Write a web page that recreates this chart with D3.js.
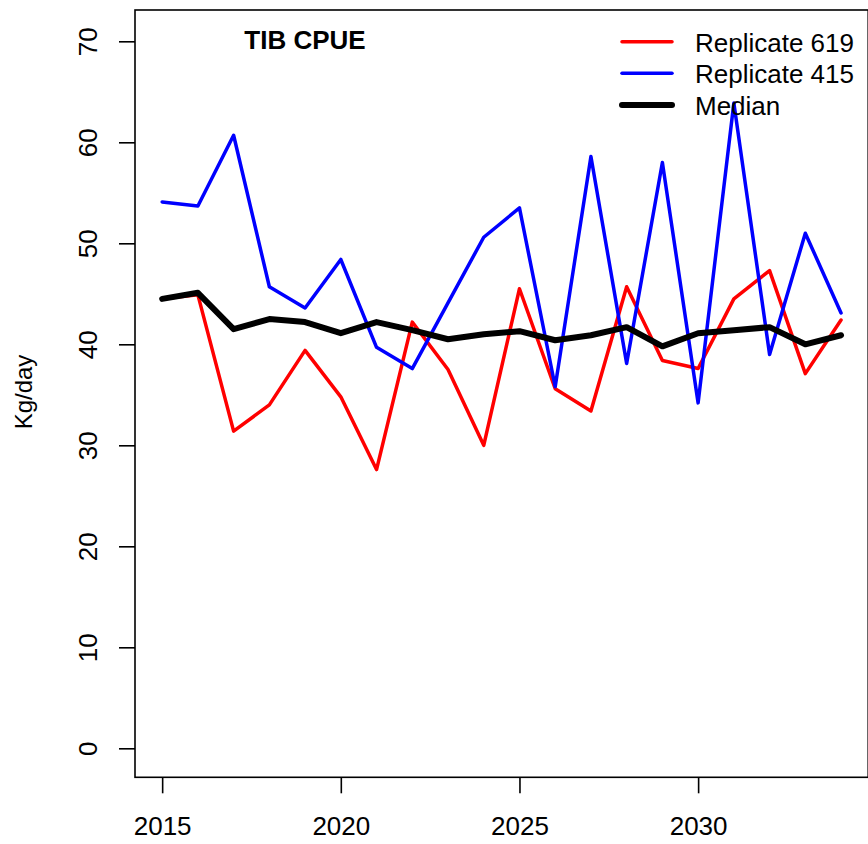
<!DOCTYPE html>
<html>
<head>
<meta charset="utf-8">
<script src="https://cdn.jsdelivr.net/npm/d3@7"></script>
<style>
  html, body { margin: 0; padding: 0; background: #fff; }
  svg { display: block; font-family: "Liberation Sans", Arial, sans-serif; }
</style>
</head>
<body>
<svg id="chart" width="868" height="844"></svg>
<script>
const years = [2015,2016,2017,2018,2019,2020,2021,2022,2023,2024,2025,2026,2027,2028,2029,2030,2031,2032,2033,2034];
const rep619 = [44.5,44.9,31.4,34.0,39.4,34.8,27.6,42.2,37.5,30.0,45.5,35.6,33.4,45.7,38.4,37.6,44.5,47.3,37.1,42.4];
const rep415 = [54.1,53.7,60.7,45.7,43.6,48.4,39.7,37.6,44.1,50.6,53.5,35.8,58.6,38.1,58.0,34.2,63.9,39.0,51.0,43.1];
const median = [44.5,45.1,41.5,42.5,42.2,41.1,42.2,41.4,40.5,41.0,41.3,40.4,40.9,41.7,39.8,41.1,41.4,41.7,40.0,40.9];
const xTicks = [2015,2020,2025,2030];
const yTicks = [0,10,20,30,40,50,60,70];
const seriesNames = ["Replicate 619","Replicate 415","Median"];
const seriesColors = ["#ff0000","#0000ff","#000000"];
const seriesWidths = [3.5,3.5,6];
const title = "TIB CPUE";
const yLabel = "Kg/day";

const svg = d3.select("#chart");
const mLeft = 135, mRight = 868.2, mTop = 10, mBottom = 777.3;
const x = d3.scaleLinear().domain([2014.24, 2034.76]).range([mLeft, mRight]);
const y = d3.scaleLinear().domain([-2.87, 73.1]).range([mBottom, mTop]);

const series = [rep619, rep415, median];
const line = d3.line().x((d, i) => x(years[i])).y(d => y(d));
series.forEach((s, k) => {
  svg.append("path").datum(s)
    .attr("d", line)
    .attr("fill", "none")
    .attr("stroke", seriesColors[k])
    .attr("stroke-width", seriesWidths[k])
    .attr("stroke-linejoin", "round")
    .attr("stroke-linecap", "round");
});

// box
svg.append("rect").attr("x", mLeft).attr("y", mTop)
  .attr("width", mRight - mLeft).attr("height", mBottom - mTop)
  .attr("fill", "none").attr("stroke", "#000").attr("stroke-width", 1.6);

// x axis
const xa = svg.append("g").attr("transform", `translate(0,${mBottom})`)
  .call(d3.axisBottom(x).tickValues(xTicks).tickFormat(d3.format("d")).tickSize(16).tickSizeOuter(0));
xa.select(".domain").remove();
xa.selectAll(".tick line").attr("stroke-width", 1.6);
xa.selectAll(".tick text").attr("font-size", 26).attr("font-family", "Liberation Sans, Arial, sans-serif")
  .attr("y", 0).attr("dy", 0).attr("transform", "translate(0,58)").style("dominant-baseline", "auto");

// y axis
const ya = svg.append("g").attr("transform", `translate(${mLeft},0)`)
  .call(d3.axisLeft(y).tickValues(yTicks).tickSize(16).tickSizeOuter(0));
ya.select(".domain").remove();
ya.selectAll(".tick line").attr("stroke-width", 1.6);
ya.selectAll(".tick text").attr("font-size", 26).attr("font-family", "Liberation Sans, Arial, sans-serif")
  .attr("x", 0).attr("dy", 0)
  .attr("text-anchor", "middle")
  .attr("transform", "translate(-38,0) rotate(-90)");

// y label
svg.append("text").attr("transform", "translate(32,392) rotate(-90)")
  .attr("text-anchor", "middle").attr("font-size", 24).text(yLabel);

// title
svg.append("text").attr("x", 305).attr("y", 49).attr("text-anchor", "middle")
  .attr("font-size", 26).attr("font-weight", "bold").text(title);

// legend
const legY = [41.7, 73.3, 105];
seriesNames.forEach((n, k) => {
  svg.append("line").attr("x1", 622).attr("x2", 672).attr("y1", legY[k]).attr("y2", legY[k])
    .attr("stroke", seriesColors[k]).attr("stroke-width", seriesWidths[k]).attr("stroke-linecap", "round");
  svg.append("text").attr("x", 695).attr("y", legY[k] + 10).attr("font-size", 26).text(n);
});
</script>
</body>
</html>
